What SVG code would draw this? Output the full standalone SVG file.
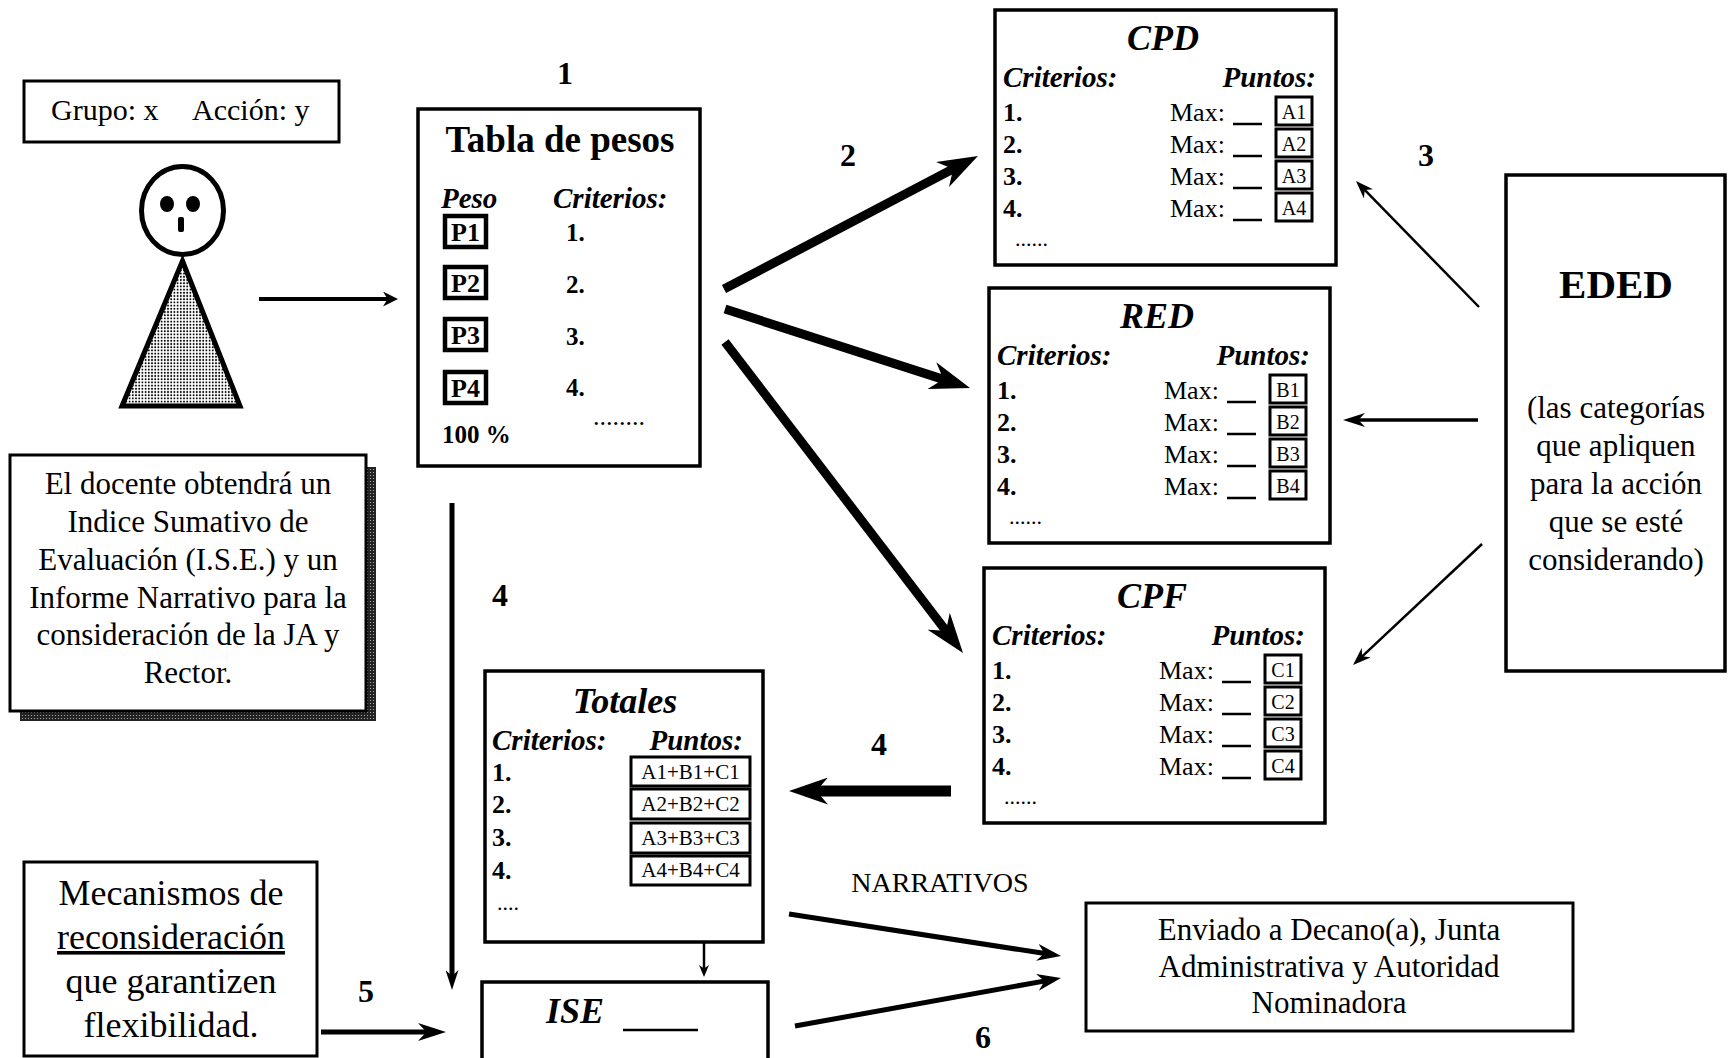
<svg xmlns="http://www.w3.org/2000/svg" width="1729" height="1058" viewBox="0 0 1729 1058">
<defs>
<style>
text{font-family:"Liberation Serif","Times New Roman",serif;fill:#000}
.box{fill:#fff;stroke:#000;stroke-width:3.5}
.sb{fill:#fff;stroke:#000;stroke-width:3}
.b{font-weight:bold}
.bi{font-weight:bold;font-style:italic}
.c{text-anchor:middle}
.e{text-anchor:end}
.lbl{font-weight:bold;font-size:32px;text-anchor:middle}
.ln{fill:none;stroke:#000;stroke-linecap:butt}
.u{stroke:#000;stroke-width:2.5}
</style>
<pattern id="dots" width="3.2" height="3.2" patternUnits="userSpaceOnUse">
<rect width="3.2" height="3.2" fill="#fff"/>
<circle cx="1.6" cy="1.6" r="0.95" fill="#000"/>
</pattern>
<pattern id="shade" width="3" height="3" patternUnits="userSpaceOnUse">
<rect width="3" height="3" fill="#222"/>
<circle cx="1.5" cy="1.5" r="0.6" fill="#bbb"/>
</pattern>
<marker id="mBig" viewBox="0 0 10 10" preserveAspectRatio="none" markerUnits="userSpaceOnUse" markerWidth="40" markerHeight="28" refX="4" refY="5" orient="auto"><path d="M0,0 L10,5 L0,10 L3,5 Z"/></marker>
<marker id="mFour" viewBox="0 0 10 10" preserveAspectRatio="none" markerUnits="userSpaceOnUse" markerWidth="39" markerHeight="27" refX="4" refY="5" orient="auto"><path d="M0,0 L10,5 L0,10 L3,5 Z"/></marker>
<marker id="mV" viewBox="0 0 10 10" preserveAspectRatio="none" markerUnits="userSpaceOnUse" markerWidth="20" markerHeight="13" refX="4" refY="5" orient="auto"><path d="M0,0 L10,5 L0,10 L3,5 Z"/></marker>
<marker id="mThin" viewBox="0 0 10 10" preserveAspectRatio="none" markerUnits="userSpaceOnUse" markerWidth="18" markerHeight="13" refX="4" refY="5" orient="auto"><path d="M0,0 L10,5 L0,10 L3,5 Z"/></marker>
<marker id="mRed" viewBox="0 0 10 10" preserveAspectRatio="none" markerUnits="userSpaceOnUse" markerWidth="22" markerHeight="14" refX="4" refY="5" orient="auto"><path d="M0,0 L10,5 L0,10 L3,5 Z"/></marker>
<marker id="mTiny" viewBox="0 0 10 10" preserveAspectRatio="none" markerUnits="userSpaceOnUse" markerWidth="12" markerHeight="10" refX="4" refY="5" orient="auto"><path d="M0,0 L10,5 L0,10 L3,5 Z"/></marker>
<marker id="mFive" viewBox="0 0 10 10" preserveAspectRatio="none" markerUnits="userSpaceOnUse" markerWidth="28" markerHeight="18" refX="4" refY="5" orient="auto"><path d="M0,0 L10,5 L0,10 L3,5 Z"/></marker>
<marker id="mNarr" viewBox="0 0 10 10" preserveAspectRatio="none" markerUnits="userSpaceOnUse" markerWidth="24" markerHeight="17" refX="4" refY="5" orient="auto"><path d="M0,0 L10,5 L0,10 L3,5 Z"/></marker>
<marker id="mP" viewBox="0 0 10 10" preserveAspectRatio="none" markerUnits="userSpaceOnUse" markerWidth="15" markerHeight="15" refX="4" refY="5" orient="auto"><path d="M0,0 L10,5 L0,10 L3,5 Z"/></marker>
</defs>
<rect width="1729" height="1058" fill="#fff"/>

<g id="grupo">
<rect class="sb" x="24" y="81" width="315" height="61"/>
<text x="51" y="120" font-size="30">Grupo: x</text>
<text x="192" y="120" font-size="30">Acción: y</text>
</g>

<g id="docente-figura">
<ellipse cx="182.5" cy="210.5" rx="41" ry="44" fill="#fff" stroke="#000" stroke-width="5"/>
<ellipse cx="167" cy="204" rx="7" ry="8"/>
<ellipse cx="193" cy="204" rx="7" ry="8"/>
<rect x="178" y="217" width="6" height="15" rx="2"/>
<polygon points="182.5,261 122,406 240,406" fill="url(#dots)" stroke="#000" stroke-width="5" stroke-linejoin="miter"/>
</g>

<g id="tabla-pesos">
<rect class="box" x="418" y="109" width="282" height="357"/>
<text class="b c" x="560" y="152" font-size="37">Tabla de pesos</text>
<text class="bi" x="441" y="208" font-size="29">Peso</text>
<text class="bi" x="553" y="208" font-size="29">Criterios:</text>
<rect x="445" y="216" width="41" height="31" fill="#fff" stroke="#000" stroke-width="4.5"/>
<text class="b c" x="465.5" y="241" font-size="26">P1</text>
<rect x="445" y="267" width="41" height="31" fill="#fff" stroke="#000" stroke-width="4.5"/>
<text class="b c" x="465.5" y="292" font-size="26">P2</text>
<rect x="445" y="319" width="41" height="31" fill="#fff" stroke="#000" stroke-width="4.5"/>
<text class="b c" x="465.5" y="344" font-size="26">P3</text>
<rect x="445" y="372" width="41" height="31" fill="#fff" stroke="#000" stroke-width="4.5"/>
<text class="b c" x="465.5" y="397" font-size="26">P4</text>
<text class="b" x="566" y="241" font-size="25">1.</text>
<text class="b" x="566" y="293" font-size="25">2.</text>
<text class="b" x="566" y="345" font-size="25">3.</text>
<text class="b" x="566" y="396" font-size="25">4.</text>
<text class="b" x="442" y="443" font-size="25">100 %</text>
<text x="593" y="425" font-size="26">........</text>
</g>

<g id="docente-texto">
<rect x="20" y="467" width="356" height="254" fill="url(#shade)"/>
<rect class="sb" x="10" y="455" width="356" height="256"/>
<text class="c" x="188" y="494" font-size="31">El docente obtendrá un</text>
<text class="c" x="188" y="531.5" font-size="31">Indice Sumativo de</text>
<text class="c" x="188" y="570" font-size="31">Evaluación (I.S.E.) y un</text>
<text class="c" x="188" y="607.5" font-size="31">Informe Narrativo para la</text>
<text class="c" x="188" y="645" font-size="31">consideración de la JA y</text>
<text class="c" x="188" y="682.5" font-size="31">Rector.</text>
</g>

<g id="cpd">
<rect class="box" x="995" y="10" width="341" height="255"/>
<text class="bi c" x="1163" y="50" font-size="36">CPD</text>
<text class="bi" x="1003" y="87" font-size="29">Criterios:</text>
<text class="bi e" x="1316" y="87" font-size="29">Puntos:</text>
<text class="b" x="1003" y="121" font-size="26">1.</text>
<text class="b" x="1003" y="153" font-size="26">2.</text>
<text class="b" x="1003" y="185" font-size="26">3.</text>
<text class="b" x="1003" y="217" font-size="26">4.</text>
<text x="1170" y="121" font-size="26">Max:</text>
<text x="1170" y="153" font-size="26">Max:</text>
<text x="1170" y="185" font-size="26">Max:</text>
<text x="1170" y="217" font-size="26">Max:</text>
<line class="u" x1="1233" y1="124" x2="1262" y2="124"/>
<line class="u" x1="1233" y1="156" x2="1262" y2="156"/>
<line class="u" x1="1233" y1="188" x2="1262" y2="188"/>
<line class="u" x1="1233" y1="220" x2="1262" y2="220"/>
<rect class="sb" x="1276" y="97" width="36" height="28"/>
<rect class="sb" x="1276" y="129" width="36" height="28"/>
<rect class="sb" x="1276" y="161" width="36" height="28"/>
<rect class="sb" x="1276" y="193" width="36" height="28"/>
<text class="c" x="1294" y="119" font-size="20">A1</text>
<text class="c" x="1294" y="151" font-size="20">A2</text>
<text class="c" x="1294" y="183" font-size="20">A3</text>
<text class="c" x="1294" y="215" font-size="20">A4</text>
<text x="1015" y="246" font-size="22">......</text>
</g>

<g id="red" transform="translate(-6,278)">
<rect class="box" x="995" y="10" width="341" height="255"/>
<text class="bi c" x="1163" y="50" font-size="36">RED</text>
<text class="bi" x="1003" y="87" font-size="29">Criterios:</text>
<text class="bi e" x="1316" y="87" font-size="29">Puntos:</text>
<text class="b" x="1003" y="121" font-size="26">1.</text>
<text class="b" x="1003" y="153" font-size="26">2.</text>
<text class="b" x="1003" y="185" font-size="26">3.</text>
<text class="b" x="1003" y="217" font-size="26">4.</text>
<text x="1170" y="121" font-size="26">Max:</text>
<text x="1170" y="153" font-size="26">Max:</text>
<text x="1170" y="185" font-size="26">Max:</text>
<text x="1170" y="217" font-size="26">Max:</text>
<line class="u" x1="1233" y1="124" x2="1262" y2="124"/>
<line class="u" x1="1233" y1="156" x2="1262" y2="156"/>
<line class="u" x1="1233" y1="188" x2="1262" y2="188"/>
<line class="u" x1="1233" y1="220" x2="1262" y2="220"/>
<rect class="sb" x="1276" y="97" width="36" height="28"/>
<rect class="sb" x="1276" y="129" width="36" height="28"/>
<rect class="sb" x="1276" y="161" width="36" height="28"/>
<rect class="sb" x="1276" y="193" width="36" height="28"/>
<text class="c" x="1294" y="119" font-size="20">B1</text>
<text class="c" x="1294" y="151" font-size="20">B2</text>
<text class="c" x="1294" y="183" font-size="20">B3</text>
<text class="c" x="1294" y="215" font-size="20">B4</text>
<text x="1015" y="246" font-size="22">......</text>
</g>

<g id="cpf" transform="translate(-11,558)">
<rect class="box" x="995" y="10" width="341" height="255"/>
<text class="bi c" x="1163" y="50" font-size="36">CPF</text>
<text class="bi" x="1003" y="87" font-size="29">Criterios:</text>
<text class="bi e" x="1316" y="87" font-size="29">Puntos:</text>
<text class="b" x="1003" y="121" font-size="26">1.</text>
<text class="b" x="1003" y="153" font-size="26">2.</text>
<text class="b" x="1003" y="185" font-size="26">3.</text>
<text class="b" x="1003" y="217" font-size="26">4.</text>
<text x="1170" y="121" font-size="26">Max:</text>
<text x="1170" y="153" font-size="26">Max:</text>
<text x="1170" y="185" font-size="26">Max:</text>
<text x="1170" y="217" font-size="26">Max:</text>
<line class="u" x1="1233" y1="124" x2="1262" y2="124"/>
<line class="u" x1="1233" y1="156" x2="1262" y2="156"/>
<line class="u" x1="1233" y1="188" x2="1262" y2="188"/>
<line class="u" x1="1233" y1="220" x2="1262" y2="220"/>
<rect class="sb" x="1276" y="97" width="36" height="28"/>
<rect class="sb" x="1276" y="129" width="36" height="28"/>
<rect class="sb" x="1276" y="161" width="36" height="28"/>
<rect class="sb" x="1276" y="193" width="36" height="28"/>
<text class="c" x="1294" y="119" font-size="20">C1</text>
<text class="c" x="1294" y="151" font-size="20">C2</text>
<text class="c" x="1294" y="183" font-size="20">C3</text>
<text class="c" x="1294" y="215" font-size="20">C4</text>
<text x="1015" y="246" font-size="22">......</text>
</g>

<g id="eded">
<rect class="box" x="1506" y="175" width="219" height="496"/>
<text class="b c" x="1616" y="298" font-size="41">EDED</text>
<text class="c" x="1616" y="418" font-size="31">(las categorías</text>
<text class="c" x="1616" y="456" font-size="31">que apliquen</text>
<text class="c" x="1616" y="494" font-size="31">para la acción</text>
<text class="c" x="1616" y="531.5" font-size="31">que se esté</text>
<text class="c" x="1616" y="569.5" font-size="31">considerando)</text>
</g>

<g id="totales">
<rect class="box" x="485" y="671" width="278" height="271"/>
<text class="bi c" x="625" y="713" font-size="36">Totales</text>
<text class="bi" x="492" y="750" font-size="29">Criterios:</text>
<text class="bi e" x="743" y="750" font-size="29">Puntos:</text>
<text class="b" x="492" y="781" font-size="26">1.</text>
<text class="b" x="492" y="813" font-size="26">2.</text>
<text class="b" x="492" y="846" font-size="26">3.</text>
<text class="b" x="492" y="879" font-size="26">4.</text>
<rect class="sb" x="631" y="757" width="119" height="29"/>
<rect class="sb" x="631" y="789" width="119" height="30"/>
<rect class="sb" x="631" y="823" width="119" height="30"/>
<rect class="sb" x="631" y="856" width="119" height="29"/>
<text class="c" x="690.5" y="779" font-size="21">A1+B1+C1</text>
<text class="c" x="690.5" y="811" font-size="21">A2+B2+C2</text>
<text class="c" x="690.5" y="845" font-size="21">A3+B3+C3</text>
<text class="c" x="690.5" y="877" font-size="21">A4+B4+C4</text>
<text x="497" y="910" font-size="22">....</text>
</g>

<g id="ise">
<rect class="box" x="482" y="982" width="286" height="100"/>
<text class="bi" x="546" y="1023" font-size="36">ISE</text>
<line class="u" x1="623" y1="1030" x2="698" y2="1030"/>
</g>

<g id="mecanismos">
<rect class="sb" x="24" y="862" width="293" height="194"/>
<text class="c" x="171" y="905" font-size="36">Mecanismos de</text>
<text class="c" x="171" y="949" font-size="36" text-decoration="underline">reconsideración</text>
<text class="c" x="171" y="993" font-size="36">que garantizen</text>
<text class="c" x="171" y="1037" font-size="36">flexibilidad.</text>
</g>

<g id="enviado">
<rect class="sb" x="1086" y="903" width="487" height="128"/>
<text class="c" x="1329" y="940" font-size="31">Enviado a Decano(a), Junta</text>
<text class="c" x="1329" y="977" font-size="31">Administrativa y Autoridad</text>
<text class="c" x="1329" y="1013" font-size="31">Nominadora</text>
</g>

<g id="connectors">
<line class="ln" x1="259" y1="299" x2="389" y2="299" stroke-width="4" marker-end="url(#mP)"/>
<line class="ln" x1="724" y1="289" x2="956.7" y2="167.1" stroke-width="9" marker-end="url(#mBig)"/>
<line class="ln" x1="725" y1="309" x2="947.2" y2="380.6" stroke-width="9" marker-end="url(#mBig)"/>
<line class="ln" x1="725" y1="342" x2="948.4" y2="633.9" stroke-width="9" marker-end="url(#mBig)"/>
<line class="ln" x1="1479" y1="307" x2="1363.5" y2="188.7" stroke-width="2.5" marker-end="url(#mThin)"/>
<line class="ln" x1="1478" y1="420" x2="1356.2" y2="420" stroke-width="3.5" marker-end="url(#mRed)"/>
<line class="ln" x1="1482" y1="544" x2="1360.9" y2="657.6" stroke-width="2.5" marker-end="url(#mThin)"/>
<line class="ln" x1="951" y1="791" x2="812.4" y2="791" stroke-width="11" marker-end="url(#mFour)"/>
<line class="ln" x1="452" y1="503" x2="452" y2="978" stroke-width="5" marker-end="url(#mV)"/>
<line class="ln" x1="704" y1="943" x2="704" y2="969.8" stroke-width="2.5" marker-end="url(#mTiny)"/>
<line class="ln" x1="321" y1="1032" x2="429.2" y2="1032" stroke-width="5" marker-end="url(#mFive)"/>
<line class="ln" x1="789" y1="914" x2="1046.8" y2="953.8" stroke-width="5" marker-end="url(#mNarr)"/>
<line class="ln" x1="795" y1="1026" x2="1046.8" y2="980.6" stroke-width="5" marker-end="url(#mNarr)"/>
<text class="lbl" x="565" y="84">1</text>
<text class="lbl" x="848" y="166">2</text>
<text class="lbl" x="1426" y="166">3</text>
<text class="lbl" x="500" y="606">4</text>
<text class="lbl" x="879" y="755">4</text>
<text class="lbl" x="366" y="1002">5</text>
<text class="lbl" x="983" y="1048">6</text>
<text class="c" x="940" y="892" font-size="28">NARRATIVOS</text>
</g>
</svg>
